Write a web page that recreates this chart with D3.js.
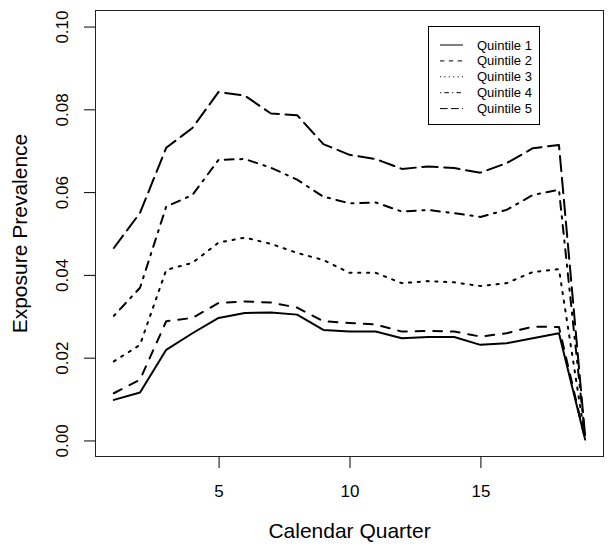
<!DOCTYPE html>
<html>
<head>
<meta charset="utf-8">
<script src="https://cdnjs.cloudflare.com/ajax/libs/d3/7.8.5/d3.min.js"></script>
<style>
    body { margin: 0; background: #fff; }
    svg { display: block; font-family: "Liberation Sans", Arial, sans-serif; }
</style>
</head>
<body>
<svg class="chart"></svg>
<script>
// Data
var quarters = [1, 2, 3, 4, 5, 6, 7, 8, 9, 10, 11, 12, 13, 14, 15, 16, 17, 18, 19];
var quintile1 = [0.0098, 0.0116, 0.0219, 0.0259, 0.0296, 0.0308, 0.0309, 0.0304, 0.0267, 0.0263, 0.0263, 0.0247, 0.0250, 0.0250, 0.0231, 0.0235, 0.0247, 0.0259, 0.0002];
var quintile2 = [0.0114, 0.0147, 0.0288, 0.0296, 0.0332, 0.0336, 0.0333, 0.0321, 0.0288, 0.0284, 0.0280, 0.0263, 0.0265, 0.0263, 0.0251, 0.0259, 0.0275, 0.0274, 0.0003];
var quintile3 = [0.0191, 0.0231, 0.0412, 0.0429, 0.0478, 0.0490, 0.0475, 0.0453, 0.0436, 0.0405, 0.0405, 0.0380, 0.0385, 0.0382, 0.0373, 0.0380, 0.0407, 0.0414, 0.0005];
var quintile4 = [0.0301, 0.0369, 0.0565, 0.0593, 0.0678, 0.0680, 0.0659, 0.0630, 0.0589, 0.0573, 0.0575, 0.0553, 0.0557, 0.0549, 0.0540, 0.0557, 0.0593, 0.0606, 0.0008];
var quintile5 = [0.0465, 0.0550, 0.0707, 0.0755, 0.0842, 0.0833, 0.0790, 0.0786, 0.0716, 0.0690, 0.0680, 0.0656, 0.0662, 0.0658, 0.0647, 0.0670, 0.0706, 0.0714, 0.0010];
var seriesNames = ["Quintile 1", "Quintile 2", "Quintile 3", "Quintile 4", "Quintile 5"];
var xTicks = [5, 10, 15];
var yTicks = [0, 0.02, 0.04, 0.06, 0.08, 0.10];

// R-style line types (lty 1..5), in units of line width
var ltys = [[], [4, 4], [1, 3], [1, 3, 4, 3], [7, 3]];

// Margins
var W = 615, H = 549;
var margin = { top: 10, right: 11, bottom: 92, left: 95 },
    width = W - margin.left - margin.right,
    height = H - margin.top - margin.bottom;

var svg = d3.select(".chart")
    .attr("width", W)
    .attr("height", H);

var chart = svg.append("g")
    .attr("transform", "translate(" + margin.left + "," + margin.top + ")");

// Scales (R pads the data range by 4% on each side)
var x = d3.scaleLinear().domain([0.28, 19.72]).range([0, width]);
var y = d3.scaleLinear().domain([-0.004, 0.104]).range([height, 0]);

// X axis
var xAxis = chart.append("g")
    .attr("transform", "translate(0," + height + ")")
    .call(d3.axisBottom(x).tickValues(xTicks).tickFormat(d3.format("d"))
        .tickSize(11).tickSizeOuter(0).tickPadding(17));
xAxis.select(".domain").remove();
xAxis.selectAll("line").attr("stroke", "#000");
xAxis.selectAll("text")
    .attr("font-size", 17)
    .attr("font-family", "Liberation Sans, Arial, sans-serif")
    .attr("fill", "#000");

// Y axis, labels rotated like R's default las=0
var yAxis = chart.append("g")
    .call(d3.axisLeft(y).tickValues(yTicks).tickFormat(d3.format(".2f"))
        .tickSize(11).tickSizeOuter(0));
yAxis.select(".domain").remove();
yAxis.selectAll("line").attr("stroke", "#000");
yAxis.selectAll("text")
    .attr("transform", "rotate(-90)")
    .attr("x", 0)
    .attr("y", -27)
    .attr("dy", 0)
    .attr("text-anchor", "middle")
    .attr("font-size", 17)
    .attr("font-family", "Liberation Sans, Arial, sans-serif")
    .attr("fill", "#000");

// Plot box
chart.append("rect")
    .attr("x", 0.5)
    .attr("y", 0.5)
    .attr("width", width - 1)
    .attr("height", height - 1)
    .attr("fill", "none")
    .attr("stroke", "#222")
    .attr("stroke-width", 1);

// Lines
var allSeries = [quintile1, quintile2, quintile3, quintile4, quintile5];
var line = d3.line()
    .x(function (d, i) { return x(quarters[i]); })
    .y(function (d) { return y(d); });

function dash(i, lwd) {
    return ltys[i].map(function (v) { return v * lwd * 1.1; }).join(",");
}

chart.selectAll(".series")
    .data(allSeries)
    .enter().append("path")
    .attr("class", "series")
    .attr("d", line)
    .attr("fill", "none")
    .attr("stroke", "#000")
    .attr("stroke-width", 2)
    .attr("stroke-linecap", "round")
    .attr("stroke-linejoin", "round")
    .attr("stroke-dasharray", function (d, i) { return i === 0 ? null : dash(i, 2); });

// Axis titles
svg.append("text")
    .attr("x", margin.left + width / 2)
    .attr("y", 538)
    .attr("text-anchor", "middle")
    .attr("font-size", 21)
    .attr("fill", "#000")
    .text("Calendar Quarter");

svg.append("text")
    .attr("transform", "translate(27," + (margin.top + height / 2) + ") rotate(-90)")
    .attr("text-anchor", "middle")
    .attr("font-size", 21)
    .attr("fill", "#000")
    .text("Exposure Prevalence");

// Legend
var legend = svg.append("g").attr("transform", "translate(428,26)");
legend.append("rect")
    .attr("x", 0.5)
    .attr("y", 0.5)
    .attr("width", 111)
    .attr("height", 98)
    .attr("fill", "#fff")
    .attr("stroke", "#000");

var rows = legend.selectAll(".row")
    .data(seriesNames)
    .enter().append("g")
    .attr("class", "row")
    .attr("transform", function (d, i) { return "translate(0," + (19 + i * 15.9) + ")"; });

rows.append("line")
    .attr("x1", 12).attr("x2", 35)
    .attr("y1", 0).attr("y2", 0)
    .attr("stroke", "#000")
    .attr("stroke-width", 1)
    .attr("stroke-dasharray", function (d, i) { return i === 0 ? null : dash(i, 1); });

rows.append("text")
    .attr("x", 49)
    .attr("y", 0)
    .attr("dy", "0.35em")
    .attr("font-size", 13)
    .attr("fill", "#000")
    .text(function (d) { return d; });
</script>
</body>
</html>
